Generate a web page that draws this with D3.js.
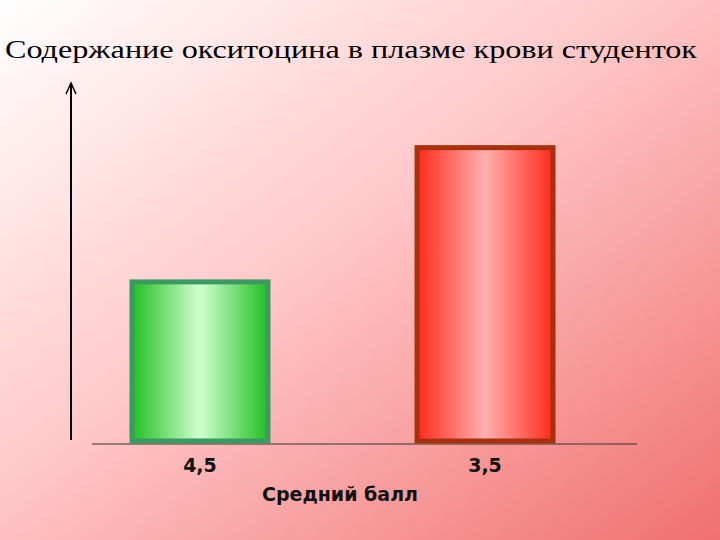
<!DOCTYPE html>
<html><head><meta charset="utf-8">
<script src="https://cdn.jsdelivr.net/npm/d3@7"></script>
<style>body{margin:0}svg{display:block}</style></head>
<body><svg id="c" width="720" height="540"></svg>
<script>
const categories = ["4,5", "3,5"];
const values = [45, 82.5];
const title = "Содержание окситоцина в плазме крови студенток";
const xLabel = "Средний балл";

const svg = d3.select("#c");
const defs = svg.append("defs");
const bg = defs.append("linearGradient").attr("id","bg").attr("x1","0").attr("y1","0").attr("x2","1").attr("y2","1");
bg.append("stop").attr("offset","0").attr("stop-color","#ffffff");
bg.append("stop").attr("offset","0.45").attr("stop-color","#ffc8c8");
bg.append("stop").attr("offset","1").attr("stop-color","#f07070");
const gg = defs.append("linearGradient").attr("id","gg");
gg.append("stop").attr("offset","0").attr("stop-color","#22c022");
gg.append("stop").attr("offset","0.5").attr("stop-color","#d0ffd0");
gg.append("stop").attr("offset","1").attr("stop-color","#22c022");
const rg = defs.append("linearGradient").attr("id","rg");
rg.append("stop").attr("offset","0").attr("stop-color","#ff2a1a");
rg.append("stop").attr("offset","0.5").attr("stop-color","#ffb0b0");
rg.append("stop").attr("offset","1").attr("stop-color","#ff2a1a");

svg.append("rect").attr("width",720).attr("height",540).attr("fill","url(#bg)");

const x = d3.scaleBand().domain(categories).range([132,553]).paddingInner(0.523).paddingOuter(0);
const y = d3.scaleLinear().domain([0,100]).range([443,85]);

svg.append("text").attr("x",5).attr("y",58).attr("font-family","Liberation Serif").attr("font-size",25)
 .attr("textLength",692).attr("lengthAdjust","spacingAndGlyphs").attr("fill","#000").text(title);

svg.append("line").attr("x1",71).attr("x2",71).attr("y1",440).attr("y2",84).attr("stroke","#000").attr("stroke-width",2);
svg.append("path").attr("d","M66,94 L71,83 L76,94").attr("fill","none").attr("stroke","#000").attr("stroke-width",1.5);
svg.append("line").attr("x1",92).attr("x2",637).attr("y1",444).attr("y2",444).attr("stroke","#333").attr("stroke-width",1);

const fills = ["url(#gg)","url(#rg)"], strokes = ["#3a9a62","#a8300c"];
svg.selectAll("rect.bar").data(values).join("rect").attr("class","bar")
 .attr("x",(d,i)=>x(categories[i])).attr("width",x.bandwidth())
 .attr("y",d=>y(d)).attr("height",d=>y(0)-y(d)-2)
 .attr("fill",(d,i)=>fills[i]).attr("stroke",(d,i)=>strokes[i]).attr("stroke-width",5);

svg.selectAll("text.cat").data(categories).join("text").attr("class","cat")
 .attr("x",d=>x(d)+x.bandwidth()/2).attr("y",472).attr("text-anchor","middle")
 .attr("font-family","DejaVu Sans").attr("font-weight","bold").attr("font-size",19).attr("fill","#111").text(d=>d);
svg.append("text").attr("x",340).attr("y",501).attr("text-anchor","middle")
 .attr("font-family","DejaVu Sans").attr("font-weight","bold").attr("font-size",19).attr("fill","#111").text(xLabel);
</script></body></html>
